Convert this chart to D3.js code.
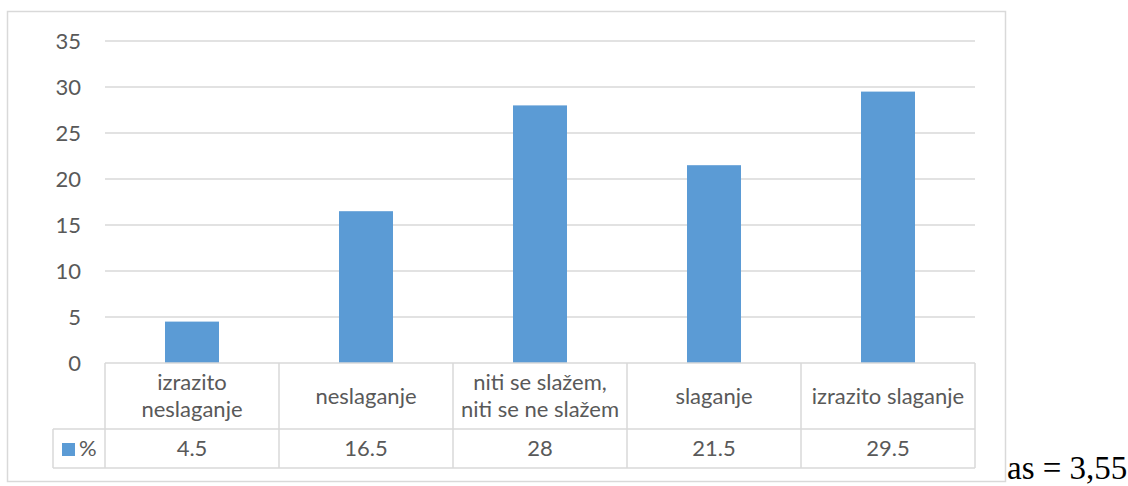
<!DOCTYPE html>
<html><head><meta charset="utf-8">
<script src="https://cdn.jsdelivr.net/npm/d3@7"></script>
<style>body{margin:0;background:#fff}svg{display:block}</style>
</head><body>
<svg id="c" width="1128" height="486"></svg>
<script>
const categories = [["izrazito","neslaganje"],["neslaganje"],["niti se slažem,","niti se ne slažem"],["slaganje"],["izrazito slaganje"]];
const valueLabels = ["4.5","16.5","28","21.5","29.5"];
const values = [4.5,16.5,28,21.5,29.5];
const yTicks = [0,5,10,15,20,25,30,35];
const seriesName = "%";

const svg = d3.select("#c");
const font = "Lato, 'Open Sans', sans-serif";
const fs = 22;
const textCol = "#595959", gridCol = "#D9D9D9", barCol = "#5B9BD5";

svg.append("rect").attr("x",7.5).attr("y",11.5).attr("width",998).attr("height",470)
  .attr("fill","#fff").attr("stroke","#D9D9D9").attr("stroke-width",1.5);

const x = d3.scaleBand().domain(d3.range(values.length)).range([105,975]).paddingInner(0).paddingOuter(0);
const y = d3.scaleLinear().domain([0,35]).range([363,41]);

svg.append("g").selectAll("line").data(yTicks.filter(d=>d>0)).join("line")
  .attr("x1",105).attr("x2",975).attr("y1",d=>y(d)).attr("y2",d=>y(d))
  .attr("stroke",gridCol).attr("stroke-width",1.5);

const yAxis = d3.axisLeft(y).tickValues(yTicks).tickSize(0).tickPadding(24);
const ga = svg.append("g").attr("transform","translate(105,0)").call(yAxis);
ga.select(".domain").remove();
ga.attr("font-family",font).attr("font-size",fs);
ga.selectAll("text").attr("font-family",font).attr("font-size",fs).attr("fill",textCol);

const bw = 54;
svg.append("g").selectAll("rect").data(values).join("rect")
  .attr("x",(d,i)=>x(i)+x.bandwidth()/2-bw/2).attr("width",bw)
  .attr("y",d=>y(d)).attr("height",d=>y(0)-y(d)).attr("fill",barCol);

const tTop = 363, tMid = 429, tBot = 468, legL = 53;
const tg = svg.append("g").attr("stroke",gridCol).attr("stroke-width",1.5);
tg.append("line").attr("x1",105).attr("x2",975).attr("y1",tTop).attr("y2",tTop);
tg.append("line").attr("x1",legL).attr("x2",975).attr("y1",tMid).attr("y2",tMid);
tg.append("line").attr("x1",legL).attr("x2",975).attr("y1",tBot).attr("y2",tBot);
tg.append("line").attr("x1",legL).attr("x2",legL).attr("y1",tMid).attr("y2",tBot);
tg.selectAll("line.v").data(d3.range(values.length+1)).join("line").attr("class","v")
  .attr("x1",i=>i<values.length?x(i):975).attr("x2",i=>i<values.length?x(i):975)
  .attr("y1",tTop).attr("y2",tBot);

const cg = svg.append("g").attr("font-family",font).attr("font-size",fs).attr("fill",textCol).attr("text-anchor","middle");
categories.forEach((lines,i)=>{
  const cx = x(i)+x.bandwidth()/2;
  const lh = 27;
  const mid = (tTop+tMid)/2;
  lines.forEach((t,j)=>{
    cg.append("text").attr("x",cx).attr("y",mid + (j-(lines.length-1)/2)*lh).attr("dy","0.35em").text(t);
  });
});
cg.selectAll("text.v").data(valueLabels).join("text").attr("class","v")
  .attr("x",(d,i)=>x(i)+x.bandwidth()/2).attr("y",(tMid+tBot)/2).attr("dy","0.35em").text(d=>d);

svg.append("rect").attr("x",62).attr("y",443).attr("width",13).attr("height",13).attr("fill",barCol);
svg.append("text").attr("x",79).attr("y",(tMid+tBot)/2).attr("dy","0.35em")
  .attr("font-family",font).attr("font-size",fs).attr("fill",textCol).text(seriesName);

svg.append("text").attr("x",1007).attr("y",479).attr("font-family","'Liberation Serif', serif")
  .attr("font-size",33).attr("fill","#000").text("as = 3,55");
</script>
</body></html>
